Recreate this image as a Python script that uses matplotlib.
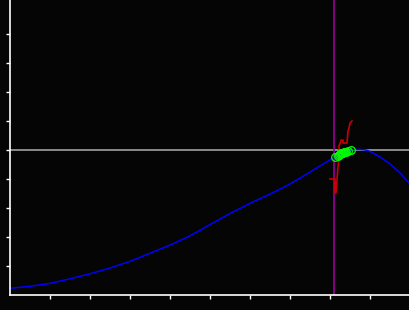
#!/usr/bin/env python3
"""
Curva de ajuste com ponto marcado (fundo preto)
"""

import matplotlib
matplotlib.use("Agg")
import matplotlib.pyplot as plt

# Curva azul (x, y em unidades dos ticks)
curva_x = [0.0, 0.5, 1.0, 1.5, 2.0, 2.5, 3.0, 3.5, 4.0, 4.5, 4.75, 5.0, 5.5,
           6.0, 6.5, 6.75, 7.0, 7.25, 7.5, 7.75, 8.0, 8.25, 8.5, 8.625, 8.75,
           8.9, 9.0, 9.25, 9.5, 9.75, 10.0]
curva_y = [0.23, 0.30, 0.40, 0.56, 0.73, 0.93, 1.16, 1.44, 1.72, 2.04, 2.23,
           2.43, 2.81, 3.16, 3.48, 3.65, 3.83, 4.03, 4.24, 4.45, 4.66, 4.84,
           4.98, 5.02, 5.02, 5.00, 4.95, 4.76, 4.52, 4.21, 3.83]

# Linha vermelha (escada)
verm_x = [8.0, 8.125, 8.125, 8.15, 8.175, 8.2, 8.225, 8.225, 8.275, 8.275,
          8.325, 8.325, 8.425, 8.45, 8.475, 8.5, 8.55]
verm_y = [4.00, 4.00, 3.52, 3.52, 3.97, 4.41, 4.72, 5.14, 5.31, 5.34,
          5.34, 5.24, 5.24, 5.66, 5.76, 5.93, 6.00]

# Pontos verdes (circulos abertos)
pontos_x = [8.125, 8.19, 8.225, 8.25, 8.275, 8.3, 8.325, 8.35, 8.375, 8.4,
            8.45, 8.525]
pontos_y = [4.76, 4.81, 4.84, 4.86, 4.88, 4.90, 4.90, 4.92, 4.93, 4.94,
            4.97, 5.00]

# Referencias
linha_v = 8.1
linha_h = 5.0


def gerar_grafico():
    fig = plt.figure(figsize=(4.1, 3.1), dpi=100, facecolor="#050505")
    ax = fig.add_axes([10 / 410, 15 / 310, 400 / 410, 295 / 310])
    ax.set_facecolor("#050505")

    ax.axhline(linha_h, color="#a0a0a0", linewidth=1.2, zorder=1)
    ax.axvline(linha_v, color="#990099", linewidth=1.2, zorder=1)

    ax.plot(curva_x, curva_y, color="#0000ff", linewidth=1.1, zorder=2)
    ax.plot(verm_x, verm_y, color="#cc0000", linewidth=1.2, zorder=3)
    ax.plot(pontos_x, pontos_y, linestyle="none", marker="o", markersize=5.5,
            markerfacecolor="none", markeredgecolor="#00ff00",
            markeredgewidth=0.9, zorder=4)

    ax.set_xlim(0, 10)
    ax.set_ylim(0, 295 / 29)
    ax.set_xticks(range(1, 10))
    ax.set_yticks(range(1, 10))
    ax.tick_params(colors="white", length=3, width=1,
                   labelbottom=False, labelleft=False)

    for lado in ("top", "right"):
        ax.spines[lado].set_visible(False)
    for lado in ("left", "bottom"):
        ax.spines[lado].set_color("white")
        ax.spines[lado].set_linewidth(1.2)

    fig.savefig("out.png", dpi=100, facecolor=fig.get_facecolor())


if __name__ == "__main__":
    gerar_grafico()
